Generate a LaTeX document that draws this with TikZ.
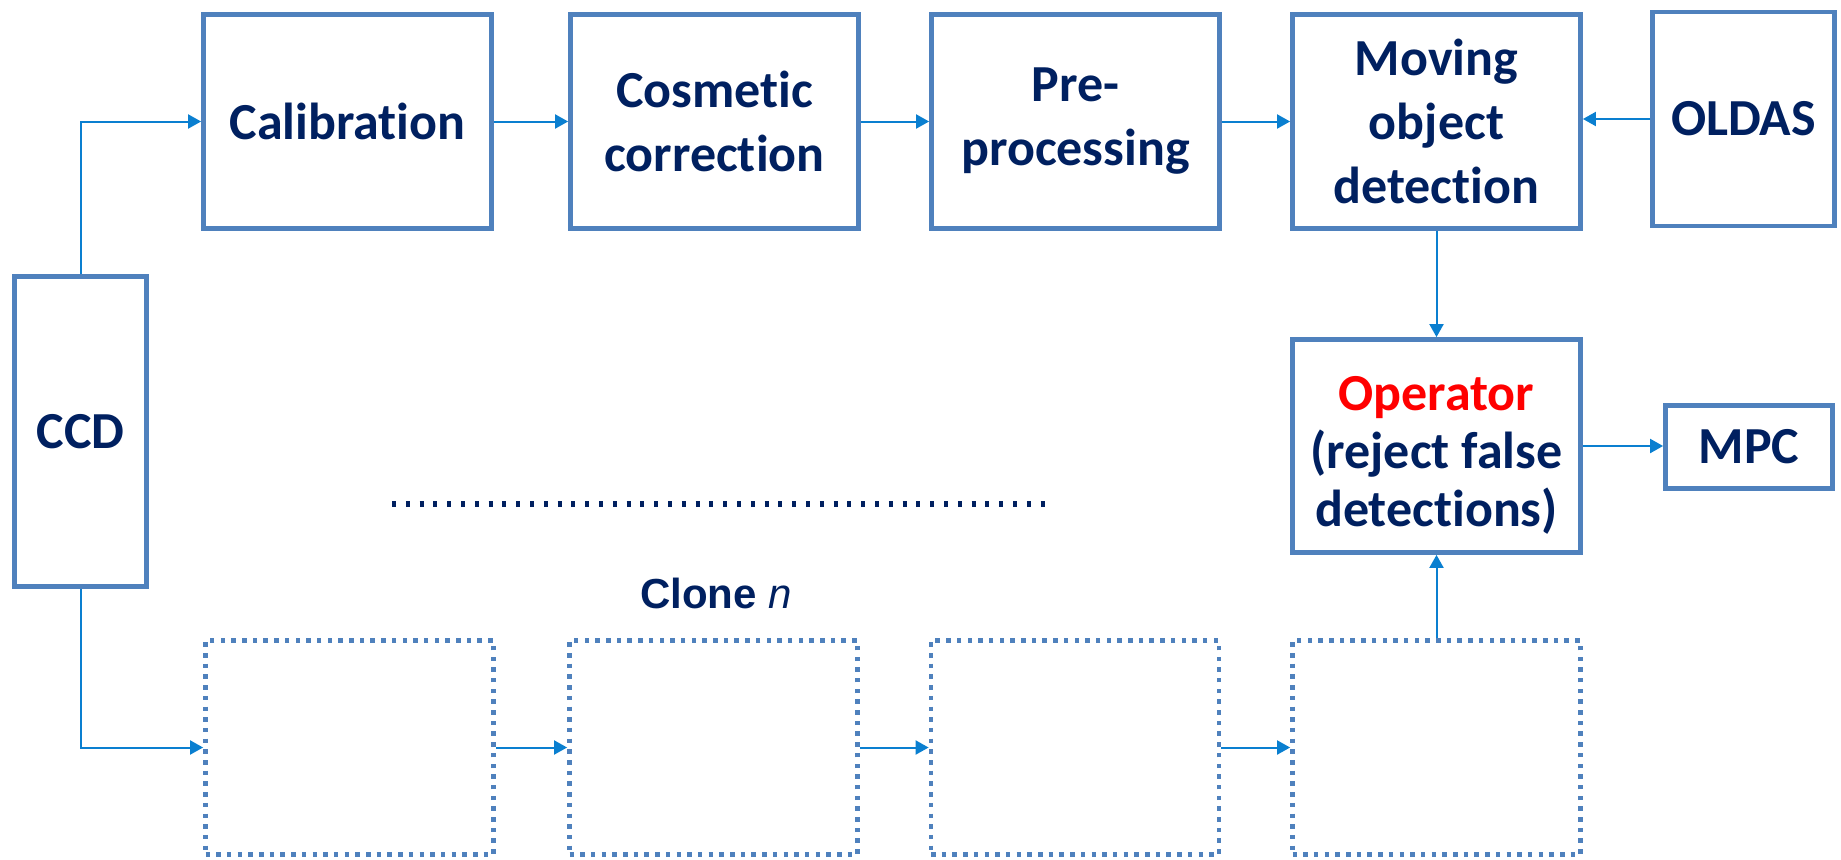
\documentclass[tikz,border=0pt]{standalone}
\usepackage{fontspec}
\setmainfont{Carlito}[Ligatures=NoCommon]
\newfontfamily\arialfont{Liberation Sans}
\usetikzlibrary{arrows.meta}

\definecolor{boxblue}{HTML}{4F81BD}
\definecolor{arrowblue}{HTML}{0A7FD0}
\definecolor{textnavy}{HTML}{002060}

\begin{document}
\begin{tikzpicture}[x=1pt,y=-1pt,
  block/.style={draw=boxblue, line width=4.8pt, minimum width=288pt, minimum height=214pt,
    align=center, inner sep=0pt, text=textnavy, font=\fontsize{52}{64}\selectfont\bfseries},
  clonebox/.style={block, dash pattern=on 4.5pt off 6.2pt},
  flow/.style={draw=arrowblue, line width=2pt, -{Triangle[length=13pt,width=14pt]}}]
\useasboundingbox (0,0) rectangle (1841,859);

% main chain
\node[block] (calib) at (347.5,121.5) {Calibration};
\node[block] (cosm) at (714.5,121.5) {Cosmetic\\correction};
\node[block] (prep) at (1075.5,121.5) {Pre-\\processing};
\node[block] (detect) at (1436.5,121.5) {Moving\\object\\detection};
\node[block, minimum width=182pt] (oldas) at (1743.5,119) {OLDAS};
\node[block, minimum width=132pt, minimum height=310pt] (ccd) at (80.5,431.5) {CCD};
\node[block, minimum height=213pt] (oper) at (1436.5,446) {};
\node[align=center, text=textnavy, font=\fontsize{52}{58}\selectfont\bfseries] (opertext) at (1436.5,455.5)
  {\textcolor{red}{Operator}\\(reject false\\detections)};
\node[block, minimum width=167pt, minimum height=83pt] (mpc) at (1749,447) {MPC};

% clone chain
\foreach \x [count=\i] in {349.5,713.5,1075,1436.5}
  \node[clonebox] (clone\i) at (\x,747.5) {};
\node[font=\arialfont\fontsize{42}{50}\selectfont\bfseries, text=textnavy] (clonelbl) at (716,593)
  {Clone \textit{\mdseries n}};

\coordinate (dotsL) at (392,504);
\coordinate (dotsR) at (1048,504);
\draw[textnavy, line width=5.5pt, dash pattern=on 4pt off 9.8pt] (dotsL) -- (dotsR);

% connectors
\draw[flow] (ccd.north) |- (calib.west);
\draw[flow] (ccd.south) |- (clone1.west);
\draw[flow] (calib.east) -- (cosm.west);
\draw[flow] (cosm.east) -- (prep.west);
\draw[flow] (prep.east) -- (detect.west);
\draw[flow] (oldas.west) -- (oldas.west -| detect.east);
\draw[flow] (detect.south) -- (oper.north);
\draw[flow] (oper.east) -- (oper.east -| mpc.west);
\foreach \a/\b in {1/2,2/3,3/4}
  \draw[flow] (clone\a.east) -- (clone\b.west);
\draw[flow] (clone4.north) -- (oper.south);
\end{tikzpicture}
\end{document}
